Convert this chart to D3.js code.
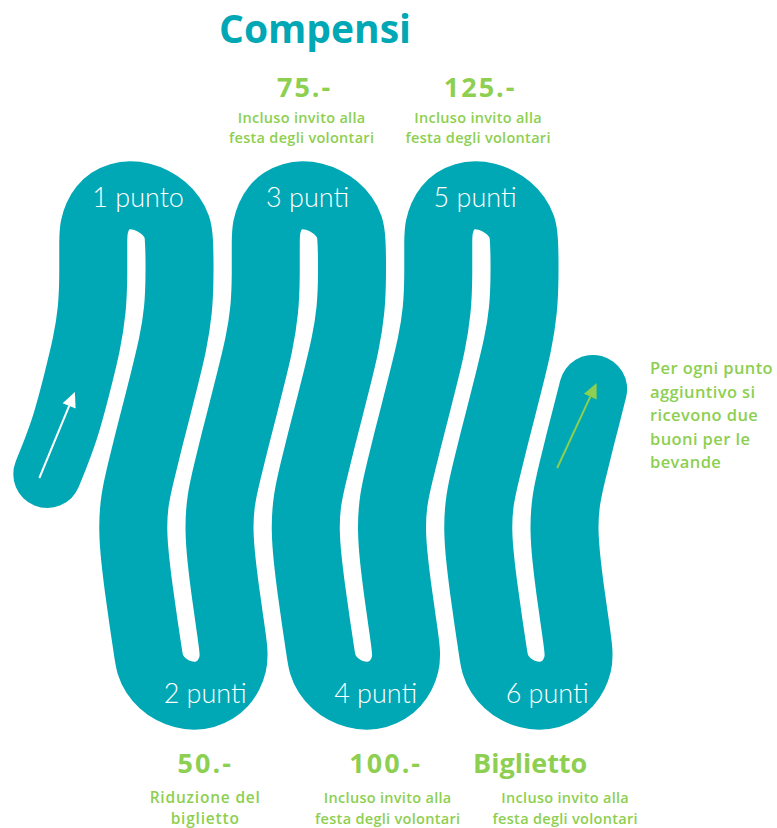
<!DOCTYPE html>
<html><head><meta charset="utf-8">
<script src="https://cdn.jsdelivr.net/npm/d3@7"></script>
<style>body{margin:0;background:#fff} svg{display:block}</style>
</head><body>
<svg id="c" width="777" height="828"></svg>
<script>
// ---------- data ----------
const title = "Compensi";
const steps = [1, 2, 3, 4, 5, 6];
const stepLabels = ["1 punto", "2 punti", "3 punti", "4 punti", "5 punti", "6 punti"];
const rewardAmounts = ["", "50.-", "75.-", "100.-", "125.-", "Biglietto"];
const rewardNotes = [
  [],
  ["Riduzione del", "biglietto"],
  ["Incluso invito alla", "festa degli volontari"],
  ["Incluso invito alla", "festa degli volontari"],
  ["Incluso invito alla", "festa degli volontari"],
  ["Incluso invito alla", "festa degli volontari"]
];
const extraNote = ["Per ogni punto", "aggiuntivo si", "ricevono due", "buoni per le", "bevande"];

// ---------- layout ----------
const TEAL = "#00a7b5", GREEN = "#8dcf50";
const svg = d3.select("#c");
const BAND = 68;                       // band thickness
const x = d3.scaleLinear().domain([1, 6]).range([137, 568.25]); // turn axis for each step
const r = (x(2) - x(1)) / 2;
const yTop = 238, yBot = 653;
// sideways drift of the band with depth
const drift = d3.scaleLinear()
  .domain([230, 300, 340, 380, 420, 450, 480, 513, 560, 600, 660])
  .range([-1, 0, -6, -16, -26, -34, -41, -49, -45, -40, -31]).clamp(true);
const strokeX = (k, y) => x(k) + r + drift(y);
const runYs = [yBot, 620, 590, 560, 530, 500, 470, 440, 410, 380, 345, 310, 275, yTop];

const pts = [];
// tail (stroke 0) going up
const tailStart = 474;
pts.push([strokeX(0, tailStart) - 7, tailStart]);
[430, 380, 345, 310, 275, yTop].forEach(y => pts.push([strokeX(0, y), y]));
for (let j = 1; j <= 6; j++) {
  const top = j % 2 === 1;
  const cy = top ? yTop : yBot;
  const cx = x(j) + drift(cy);
  const lean = top ? -6 : 3;
  for (let a = 15; a < 180; a += 15) {
    const th = (180 + (top ? a : -a)) * Math.PI / 180;
    const s = Math.sin(th);
    pts.push([cx + r * Math.cos(th) + lean * s * s, cy + r * s]);
  }
  if (j < 6) {
    const ys = top ? runYs.slice().reverse() : runYs;
    ys.forEach(y => pts.push([strokeX(j, y), y]));
  } else {
    [yBot, 620, 590, 560, 530, 500, 470, 440, 410, 389].forEach(y => pts.push([strokeX(6, y), y]));
  }
}

const line = d3.line().curve(d3.curveBasis);
svg.append("path")
  .attr("d", line(pts))
  .attr("fill", "none")
  .attr("stroke", TEAL)
  .attr("stroke-width", BAND)
  .attr("stroke-linecap", "round")
  .attr("stroke-linejoin", "round");

// arrows
function arrow(x0, y0, x1, y1, color) {
  const ang = Math.atan2(y1 - y0, x1 - x0);
  const L = 15, Wd = 7;
  const bx = x1 - L * Math.cos(ang), by = y1 - L * Math.sin(ang);
  svg.append("line").attr("x1", x0).attr("y1", y0).attr("x2", bx).attr("y2", by)
    .attr("stroke", color).attr("stroke-width", 2);
  svg.append("path")
    .attr("d", `M${x1},${y1}L${bx - Wd * Math.sin(ang)},${by + Wd * Math.cos(ang)}L${bx + Wd * Math.sin(ang)},${by - Wd * Math.cos(ang)}Z`)
    .attr("fill", color);
}
arrow(strokeX(0, 478) - 14, 478, strokeX(0, 392), 392, "#fff");
arrow(strokeX(6, 468) - 16, 468, strokeX(6, 383) + 2, 383, GREEN);

// title
svg.append("text").text(title)
  .attr("x", 315).attr("y", 43).attr("text-anchor", "middle")
  .attr("font-family", "'Open Sans', sans-serif").attr("font-weight", 700)
  .attr("font-size", 39).attr("fill", TEAL);

// step labels on the turns
const labelDx = [2, 14, -1, 12, -6, 11];
steps.forEach((s, i) => {
  const top = s % 2 === 1;
  svg.append("text").text(stepLabels[i])
    .attr("x", x(s) + drift(top ? yTop : yBot) + labelDx[i])
    .attr("y", top ? 207 : 703)
    .attr("text-anchor", "middle")
    .attr("font-family", "Lato, sans-serif").attr("font-weight", 300)
    .attr("font-size", 27).attr("fill", "#fff");
});

// rewards
const amountDx = [0, 14, -4, 22, -1, -6];
const noteDx = [0, 14, -7, 24, -3, 29];
steps.forEach((s, i) => {
  if (!rewardAmounts[i]) return;
  const top = s % 2 === 1;
  const base = x(s) + drift(top ? yTop : yBot);
  svg.append("text").text(rewardAmounts[i])
    .attr("x", base + amountDx[i]).attr("y", top ? 97 : 773)
    .attr("text-anchor", "middle")
    .attr("font-family", "'Open Sans', sans-serif").attr("font-weight", 700)
    .attr("font-size", 27).attr("letter-spacing", i === 5 ? 0 : 2).attr("fill", GREEN);
  rewardNotes[i].forEach((t, k) => {
    svg.append("text").text(t)
      .attr("x", base + noteDx[i]).attr("y", (top ? 123 : 803) + k * (top ? 20 : 21))
      .attr("text-anchor", "middle")
      .attr("font-family", "'Open Sans', sans-serif").attr("font-weight", 600)
      .attr("font-size", i === 1 ? 15.5 : 14.5).attr("letter-spacing", i === 1 ? 0.8 : 0.3).attr("fill", GREEN);
  });
});

// extra note
extraNote.forEach((t, k) => {
  svg.append("text").text(t)
    .attr("x", 650).attr("y", 374 + k * 23.5)
    .attr("font-family", "'Open Sans', sans-serif").attr("font-weight", 600)
    .attr("font-size", 16.5).attr("letter-spacing", 0.4).attr("fill", GREEN);
});
</script>
</body></html>
